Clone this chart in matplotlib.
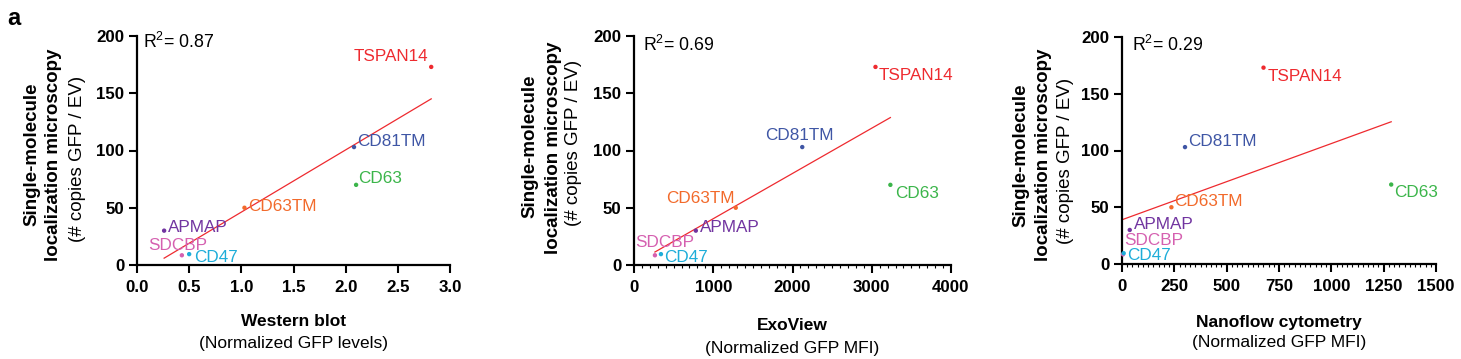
import matplotlib
matplotlib.use('Agg')
import matplotlib.pyplot as plt
import numpy as np
from matplotlib.ticker import MultipleLocator

plt.rcParams['font.family'] = ['Liberation Sans', 'DejaVu Sans']
plt.rcParams['mathtext.fontset'] = 'custom'
plt.rcParams['mathtext.rm'] = 'Liberation Sans'

# ---------------- data ----------------
proteins = ['TSPAN14', 'CD81TM', 'CD63', 'CD63TM', 'APMAP', 'SDCBP', 'CD47']
colors = ['#EE2A2F', '#3F56A5', '#3BB54A', '#F26A2B', '#7134A0', '#D560B0', '#1EADD9']
smlm_copies = [173, 103, 70, 50, 30, 8.5, 9.5]
western_blot = [2.82, 2.08, 2.10, 1.03, 0.26, 0.43, 0.50]
exoview = [3047, 2123, 3235, 1284, 780, 264, 340]
nanoflow = [676, 301, 1286, 236, 37, 5, 8]
r2_labels = ['0.87', '0.69', '0.29']
x_titles = ['Western blot', 'ExoView', 'Nanoflow cytometry']
x_subtitles = ['(Normalized GFP levels)', '(Normalized GFP MFI)', '(Normalized GFP MFI)']
x_ticks = [[0.0, 0.5, 1.0, 1.5, 2.0, 2.5, 3.0],
           [0, 1000, 2000, 3000, 4000],
           [0, 250, 500, 750, 1000, 1250, 1500]]
x_ticklabels = [['0.0', '0.5', '1.0', '1.5', '2.0', '2.5', '3.0'],
                ['0', '1000', '2000', '3000', '4000'],
                ['0', '250', '500', '750', '1000', '1250', '1500']]
y_ticks = [0, 50, 100, 150, 200]

# ---------------- layout / style ----------------
W, H = 1461, 359
fig = plt.figure(figsize=(W / 100, H / 100), dpi=100)

axes_px = [(137, 450, 36, 265), (634, 951, 36, 265), (1122, 1436, 37, 264)]
minor_steps = [None, 100, 25]

# label offsets (dx, dy in pixels, ha)
label_offsets = [
    [(-3, 6, 'right'), (3, 1, 'left'), (2, 2, 'left'), (4, -3, 'left'),
     (4, -1, 'left'), (-4, 5, 'center'), (5, -8, 'left')],
    [(3, -13, 'left'), (-3, 7, 'center'), (5, -13, 'left'), (-1, 5, 'right'),
     (4, -1, 'left'), (10, 8, 'center'), (3, -8, 'left')],
    [(4, -13, 'left'), (3, 1, 'left'), (3, -12, 'left'), (3, 1, 'left'),
     (4, 1, 'left'), (1, 9, 'left'), (3, -7, 'left')],
]
ylab_x = [(-105, -83, -60), (-104, -81, -61), (-101, -78, -56)]
ylab_y = [(-4, -4.5, -8.5), (4, 3, 7.5), (-5, -4.5, -10)]
xlab_y = [(-61, -83), (-65, -88), (-63, -83)]
r2_pos = [(6, -12), (9, -15), (10, -14)]

xdata_all = [western_blot, exoview, nanoflow]
lab_fs = 12.3

for i, (l, r, t, b) in enumerate(axes_px):
    ax = fig.add_axes([l / W, 1 - b / H, (r - l) / W, (b - t) / H])
    xd = np.array(xdata_all[i], dtype=float)
    yd = np.array(smlm_copies, dtype=float)

    # regression line
    slope, intercept = np.polyfit(xd, yd, 1)
    xl = np.array([xd.min(), xd.max()])
    ax.plot(xl, slope * xl + intercept, color='#EE2A2F', lw=0.9, zorder=2)

    ax.scatter(xd, yd, s=10, c=colors, zorder=3, clip_on=False, linewidths=0)

    for j, name in enumerate(proteins):
        dx, dy, ha = label_offsets[i][j]
        ax.annotate(name, xy=(xd[j], yd[j]), xytext=(dx, dy),
                    textcoords='offset pixels', ha=ha, va='baseline',
                    fontsize=lab_fs, color=colors[j], zorder=4,
                    annotation_clip=False)

    ax.set_xlim(x_ticks[i][0], x_ticks[i][-1])
    ax.set_ylim(0, 200)
    ax.set_xticks(x_ticks[i])
    ax.set_xticklabels(x_ticklabels[i])
    ax.set_yticks(y_ticks)
    ax.set_yticklabels([str(v) for v in y_ticks])
    if minor_steps[i]:
        ax.xaxis.set_minor_locator(MultipleLocator(minor_steps[i]))
        ax.tick_params(axis='x', which='minor', length=1.8, width=0.8, direction='out')

    for s in ['top', 'right']:
        ax.spines[s].set_visible(False)
    for s in ['left', 'bottom']:
        ax.spines[s].set_linewidth(1.6)
    ax.tick_params(axis='both', which='major', length=6, width=1.5, direction='out')
    ax.tick_params(axis='x', which='major', pad=5)
    ax.tick_params(axis='y', which='major', pad=3)
    for tl in ax.get_xticklabels() + ax.get_yticklabels():
        tl.set_fontweight('bold')
        tl.set_fontsize(12.2)

    # R^2 text
    ax.annotate('R$^{2}$= ' + r2_labels[i], xy=(0, 1), xycoords='axes fraction',
                xytext=r2_pos[i], textcoords='offset pixels',
                ha='left', va='baseline', fontsize=12.8)

    # y labels (three lines)
    ylines = [('Single-molecule', 'bold'), ('localization microscopy', 'bold'),
              ('(# copies GFP / EV)', 'normal')]
    for k, (txt, fw) in enumerate(ylines):
        ax.annotate(txt, xy=(0, 0.5), xycoords='axes fraction',
                    xytext=(ylab_x[i][k], ylab_y[i][k]), textcoords='offset pixels',
                    rotation=90, ha='center', va='center', fontsize=13.5,
                    fontweight=fw, annotation_clip=False)

    # x labels (two lines)
    ax.annotate(x_titles[i], xy=(0.5, 0), xycoords='axes fraction',
                xytext=(0, xlab_y[i][0]), textcoords='offset pixels',
                ha='center', va='baseline', fontsize=12.5, fontweight='bold',
                annotation_clip=False)
    ax.annotate(x_subtitles[i], xy=(0.5, 0), xycoords='axes fraction',
                xytext=(0, xlab_y[i][1]), textcoords='offset pixels',
                ha='center', va='baseline', fontsize=12.5,
                annotation_clip=False)

fig.text(7 / W, 1 - 25 / H, 'a', fontsize=17, fontweight='bold',
         ha='left', va='baseline')

fig.savefig('out.png', dpi=100)
